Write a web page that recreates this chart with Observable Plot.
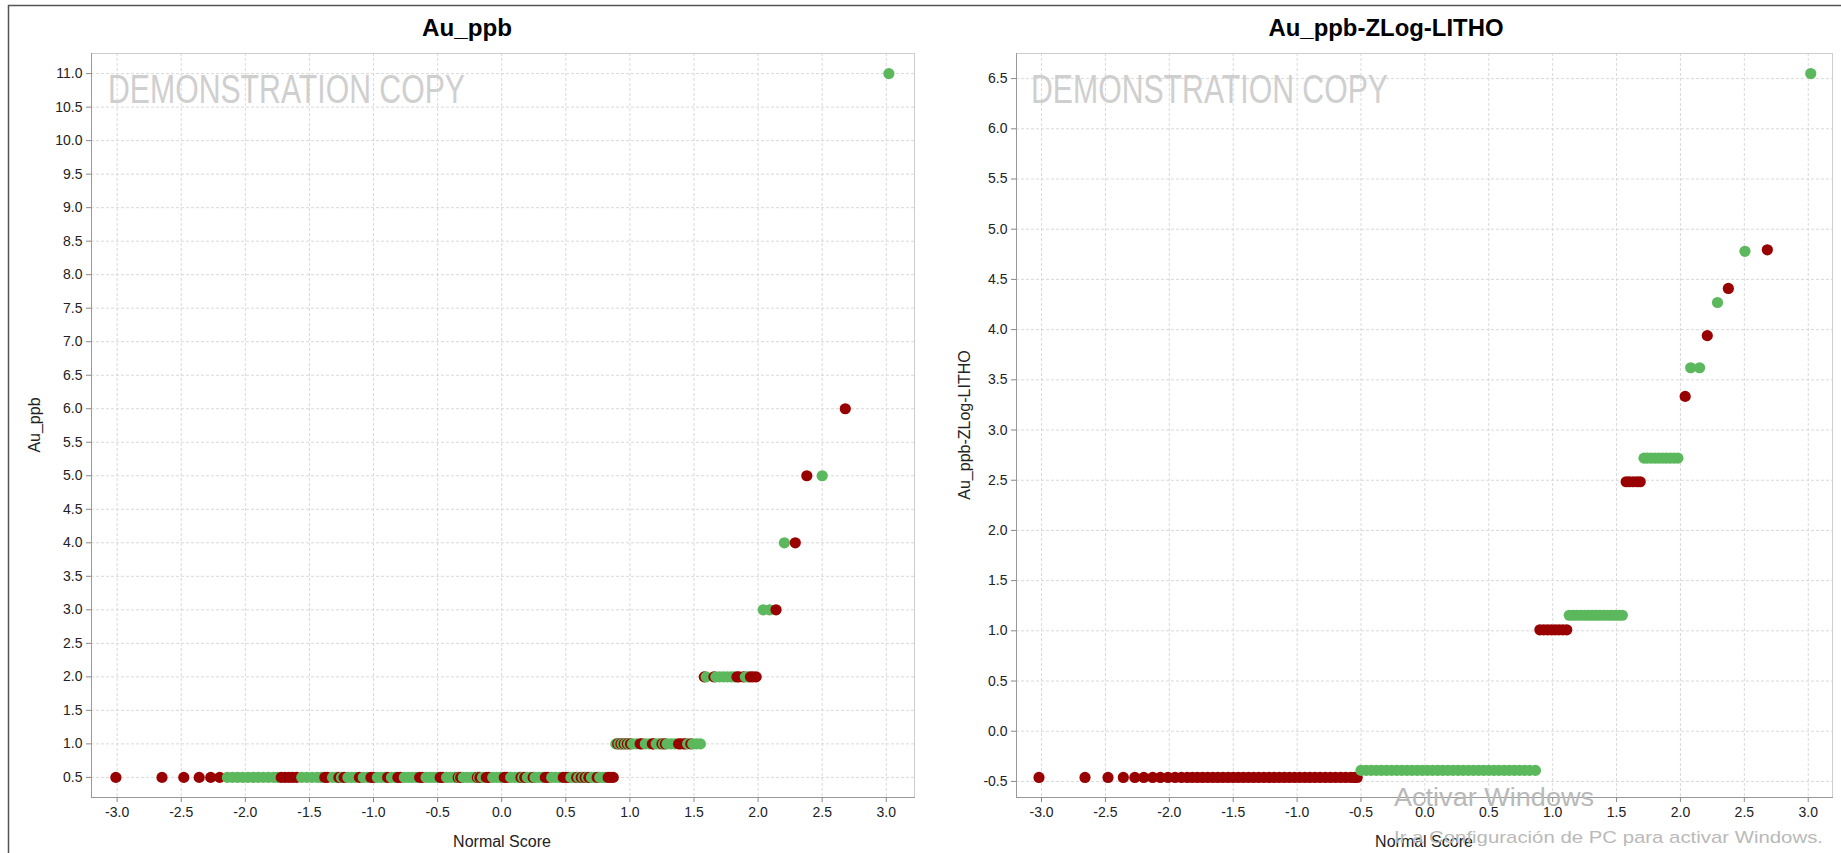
<!DOCTYPE html>
<html>
<head>
<meta charset="utf-8">
<script src="https://cdn.jsdelivr.net/npm/d3@7"></script>
<script src="https://cdn.jsdelivr.net/npm/@observablehq/plot@0.6"></script>
<style>
  html, body { margin: 0; padding: 0; background: #fff; overflow: hidden; }
  #wrap { position: relative; width: 1841px; height: 853px; }
  .panel { position: absolute; top: 0; }
  #overlay { position: absolute; left: 0; top: 0; pointer-events: none; }
</style>
</head>
<body>
<div id="wrap">
  <div id="left" class="panel" style="left:0px"></div>
  <div id="right" class="panel" style="left:920px"></div>
</div>
<script>
// ---------------- DATA ----------------
const xTicks = [-3.0, -2.5, -2.0, -1.5, -1.0, -0.5, 0.0, 0.5, 1.0, 1.5, 2.0, 2.5, 3.0];
const auTicks = [0.5, 1.0, 1.5, 2.0, 2.5, 3.0, 3.5, 4.0, 4.5, 5.0, 5.5, 6.0, 6.5, 7.0, 7.5, 8.0, 8.5, 9.0, 9.5, 10.0, 10.5, 11.0];
const zlogTicks = [-0.5, 0.0, 0.5, 1.0, 1.5, 2.0, 2.5, 3.0, 3.5, 4.0, 4.5, 5.0, 5.5, 6.0, 6.5];

// Left chart: Au_ppb levels and the normal scores of the samples at each level
const auValues = [0.5, 1.0, 2.0, 3.0, 4.0, 5.0, 6.0, 11.0];
const auRedScores = [
  [-3.01, -2.65, -2.48, -2.36, -2.27, -2.20, -1.72, -1.69, -1.66, -1.63, -1.60, -1.38, -1.36, -1.27, -1.23,
   -1.11, -1.02, -1.00, -0.89, -0.81, -0.79, -0.64, -0.62, -0.48, -0.46, -0.34, -0.32, -0.19, -0.17, -0.12,
   -0.10, 0.02, 0.04, 0.15, 0.18, 0.245, 0.34, 0.36, 0.48, 0.50, 0.52, 0.585, 0.62, 0.65, 0.68, 0.745,
   0.83, 0.85, 0.87],
  [0.905, 0.93, 0.955, 0.98, 1.005, 1.08, 1.095, 1.175, 1.185, 1.25, 1.275, 1.38, 1.395, 1.42, 1.435, 1.475],
  [1.58, 1.655, 1.835, 1.85, 1.885, 1.94, 1.96, 1.985],
  [2.14],
  [2.29],
  [2.38],
  [2.68],
  []
];
const auGreenScores = [
  [-2.14, -2.10, -2.06, -2.02, -1.98, -1.94, -1.90, -1.86, -1.82, -1.78, -1.75, -1.56, -1.52, -1.48, -1.44,
   -1.41, -1.32, -1.29, -1.25, -1.20, -1.17, -1.14, -1.08, -1.05, -0.97, -0.94, -0.91, -0.86, -0.83, -0.76,
   -0.73, -0.70, -0.67, -0.59, -0.56, -0.53, -0.50, -0.43, -0.40, -0.37, -0.33, -0.30, -0.27, -0.24, -0.21,
   -0.18, -0.15, -0.07, -0.04, -0.01, 0.07, 0.10, 0.13, 0.165, 0.20, 0.22, 0.26, 0.29, 0.32, 0.39, 0.42,
   0.45, 0.54, 0.56, 0.60, 0.635, 0.665, 0.70, 0.72, 0.765, 0.79, 0.81],
  [0.89, 0.915, 0.94, 0.965, 0.99, 1.02, 1.05, 1.12, 1.15, 1.205, 1.23, 1.262, 1.29, 1.32, 1.35, 1.45, 1.49, 1.52, 1.55],
  [1.595, 1.67, 1.70, 1.73, 1.76, 1.79, 1.815, 1.90, 1.92],
  [2.04, 2.09],
  [2.205],
  [2.50],
  [],
  [3.02]
];

// Right chart: Au_ppb-ZLog-LITHO levels (red and green lithologies) and their normal scores
const zlogRedValues = [-0.46, 1.01, 2.485, 3.335, 3.94, 4.41, 4.795];
const zlogRedScores = [
  [-3.02, -2.66, -2.48, -2.36, -2.27, -2.20, -2.13, -2.07, -2.01, -1.955, -1.905, -1.86, -1.82, -1.78, -1.74,
   -1.70, -1.66, -1.62, -1.58, -1.54, -1.50, -1.46, -1.42, -1.38, -1.34, -1.30, -1.26, -1.22, -1.18, -1.14,
   -1.10, -1.06, -1.02, -0.98, -0.94, -0.90, -0.86, -0.82, -0.78, -0.74, -0.70, -0.66, -0.62, -0.58, -0.55, -0.53],
  [0.90, 0.93, 0.96, 0.99, 1.02, 1.05, 1.08, 1.11],
  [1.575, 1.60, 1.63, 1.66, 1.685],
  [2.037],
  [2.21],
  [2.375],
  [2.68]
];
const zlogGreenValues = [-0.39, 1.155, 2.72, 3.62, 4.27, 4.78, 6.55];
const zlogGreenScores = [
  [-0.50, -0.46, -0.42, -0.38, -0.34, -0.30, -0.26, -0.22, -0.18, -0.14, -0.10, -0.06, -0.02, 0.02, 0.06,
   0.10, 0.14, 0.18, 0.22, 0.26, 0.30, 0.34, 0.38, 0.42, 0.46, 0.50, 0.54, 0.58, 0.62, 0.66, 0.70, 0.74,
   0.78, 0.82, 0.865],
  [1.13, 1.16, 1.19, 1.22, 1.25, 1.28, 1.31, 1.34, 1.37, 1.40, 1.43, 1.46, 1.49, 1.52, 1.545],
  [1.715, 1.74, 1.77, 1.80, 1.83, 1.86, 1.89, 1.92, 1.95, 1.98],
  [2.08, 2.15],
  [2.29],
  [2.505],
  [3.02]
];

const lithoColors = ["#990000", "#5cb85c"];
const lithoNames = ["R", "G"];

// ---------------- BUILD ----------------
function rows(values, redScores, greenScores, greenValues) {
  const out = [];
  values.forEach((v, i) => redScores[i].forEach(s => out.push({score: s, value: v, litho: "R"})));
  (greenValues || values).forEach((v, i) => greenScores[i].forEach(s => out.push({score: s, value: v, litho: "G"})));
  out.sort((a, b) => a.score - b.score);
  return out;
}
const leftData = rows(auValues, auRedScores, auGreenScores, null);
const rightData = rows(zlogRedValues, zlogRedScores, zlogGreenScores, zlogGreenValues);

const fmt = d => d.toFixed(1);
const FONT = "'Liberation Sans', Arial, sans-serif";

function panel(data, yTicks, xDomain, yDomain, width, mLeft, mRight) {
  return Plot.plot({
    width, height: 853,
    marginLeft: mLeft, marginRight: mRight, marginTop: 53, marginBottom: 56,
    style: {background: "transparent", fontFamily: FONT, fontSize: "14px", color: "#222", overflow: "visible"},
    x: {domain: xDomain, label: null},
    y: {domain: yDomain, label: null},
    color: {domain: lithoNames, range: lithoColors},
    marks: [
      Plot.gridX(xTicks, {stroke: "#d9d9d9", strokeOpacity: 1, strokeDasharray: "3,2"}),
      Plot.gridY(yTicks, {stroke: "#d9d9d9", strokeOpacity: 1, strokeDasharray: "3,2"}),
      Plot.frame({stroke: "#cdcdcd"}),
      Plot.frame({anchor: "left", stroke: "#999"}),
      Plot.frame({anchor: "bottom", stroke: "#999"}),
      Plot.axisX(xTicks, {tickFormat: fmt, tickSize: 5, tickPadding: 5, stroke: "#888", label: null}),
      Plot.axisY(yTicks, {tickFormat: fmt, tickSize: 5, tickPadding: 4, stroke: "#888", label: null}),
      Plot.dot(data, {x: "score", y: "value", fill: "litho", r: 5.6, stroke: null})
    ]
  });
}

document.getElementById("left").append(panel(leftData, auTicks, [-3.2, 3.22], [0.2, 11.3], 920, 91, 6));
document.getElementById("right").append(panel(rightData, zlogTicks, [-3.196, 3.19], [-0.66, 6.75], 921, 96, 9));

// ---------------- TEXT OVERLAY ----------------
const svg = d3.select("#wrap").append("svg").attr("id", "overlay")
  .attr("width", 1841).attr("height", 853).style("font-family", FONT);

// outer frame lines
svg.append("line").attr("x1", 8).attr("x2", 1841).attr("y1", 5.5).attr("y2", 5.5).attr("stroke", "#555").attr("stroke-width", 1.5);
svg.append("line").attr("x1", 8.5).attr("x2", 8.5).attr("y1", 5).attr("y2", 853).attr("stroke", "#555").attr("stroke-width", 1.5);

function txt(s, x, y, o) {
  const t = svg.append("text").text(s).attr("x", x).attr("y", y)
    .attr("font-size", o.size).attr("fill", o.fill || "#111")
    .attr("text-anchor", o.anchor || "start")
    .attr("font-weight", o.weight || "normal");
  if (o.len) t.attr("textLength", o.len).attr("lengthAdjust", "spacingAndGlyphs");
  if (o.rotate) t.attr("transform", `rotate(-90 ${x} ${y})`);
  if (o.opacity) t.attr("opacity", o.opacity);
  return t;
}
// watermarks
txt("DEMONSTRATION COPY", 108, 103, {size: 40, fill: "#cfcfcf", len: 357});
txt("DEMONSTRATION COPY", 1031, 103, {size: 40, fill: "#cfcfcf", len: 357});
// titles
txt("Au_ppb", 467, 36, {size: 23, weight: "bold", anchor: "middle", fill: "#000", len: 90});
txt("Au_ppb-ZLog-LITHO", 1386, 36, {size: 23, weight: "bold", anchor: "middle", fill: "#000", len: 235});
// axis labels
txt("Au_ppb", 40, 425, {size: 16, anchor: "middle", rotate: true, fill: "#222"});
txt("Au_ppb-ZLog-LITHO", 970, 425, {size: 16, anchor: "middle", rotate: true, fill: "#222"});
txt("Normal Score", 502, 847, {size: 16, anchor: "middle", fill: "#222"});
txt("Normal Score", 1424, 847, {size: 16, anchor: "middle", fill: "#222"});
// OS activation watermark (overlays the chart in the reference)
txt("Activar Windows", 1394, 806, {size: 26, fill: "#b9b9b9", len: 200});
txt("Ir a Configuración de PC para activar Windows.", 1394, 843, {size: 17, fill: "#b9b9b9", len: 429});
</script>
</body>
</html>
